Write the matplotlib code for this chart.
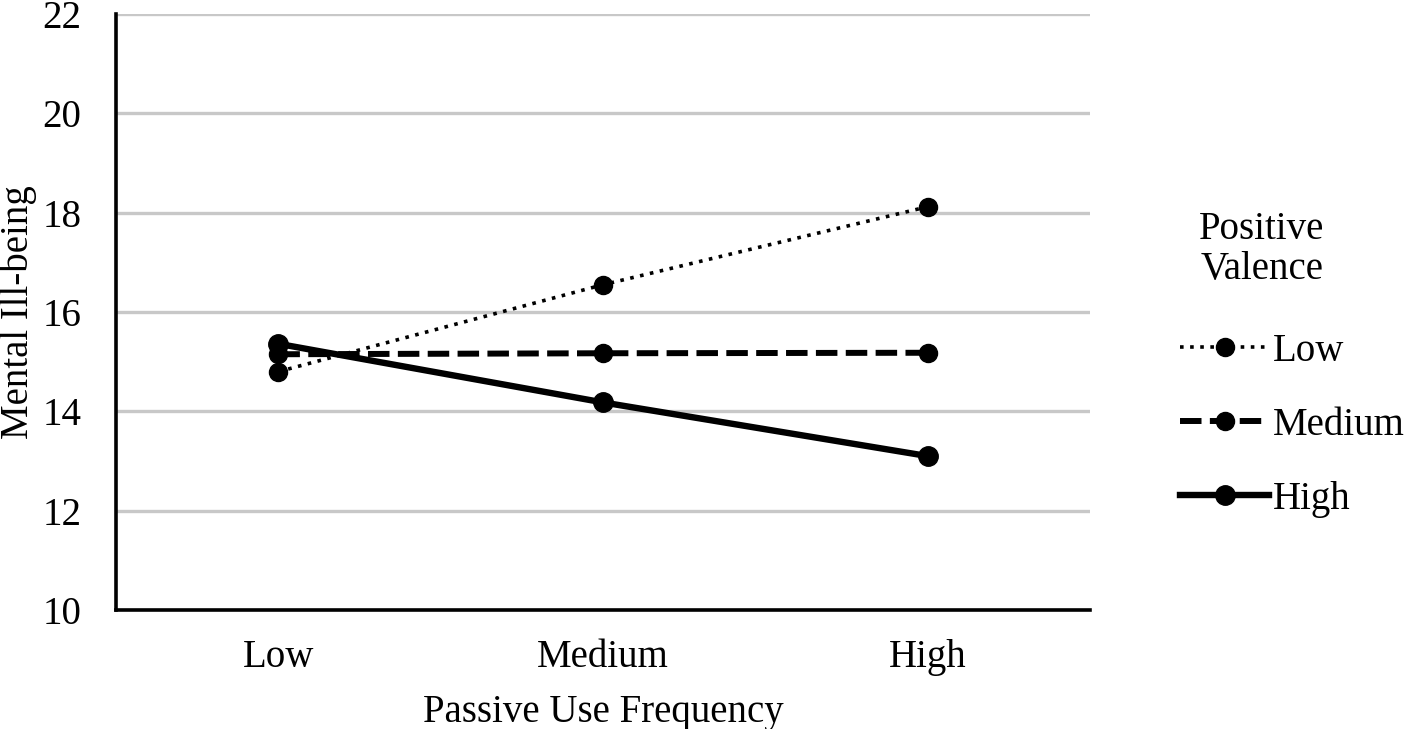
import matplotlib.pyplot as plt

# passive use frequency categories
categories = ["Low", "Medium", "High"]
# mental ill-being by positive valence level
low_valence = [14.8, 16.55, 18.12]
medium_valence = [15.15, 15.17, 15.18]
high_valence = [15.36, 14.18, 13.1]
yticks = [10, 12, 14, 16, 18, 20, 22]

plt.rcParams['font.family'] = ['Liberation Serif', 'DejaVu Serif']

fig = plt.figure(figsize=(14.08, 7.29), dpi=100)
ax = fig.add_axes([0.0824, 0.163, 0.692, 0.818])

x = range(len(categories))
ax.plot(x, low_valence, linestyle=(0, (1.0, 1.8)), linewidth=2.6, color="black",
        marker="o", markersize=13, label="Low", zorder=3)
ax.plot(x, medium_valence, linestyle=(0, (3.6, 1.4)), linewidth=4.3, color="black",
        marker="o", markersize=13, label="Medium", zorder=3)
ax.plot(x, high_valence, linestyle="-", linewidth=4.6, color="black",
        marker="o", markersize=14, label="High", zorder=3)

ax.set_xlim(-0.5, 2.5)
ax.set_ylim(10, 22)
ax.set_yticks(yticks)
ax.set_xticks(list(x))
ax.set_xticklabels(categories)
ax.yaxis.grid(True, color="#c8c8c8", linewidth=2.4)
ax.set_axisbelow(True)
for side in ["top", "right"]:
    ax.spines[side].set_visible(False)
ax.spines["left"].set_linewidth(2.6)
ax.spines["bottom"].set_linewidth(2.6)
ax.tick_params(length=0, labelsize=28)
ax.tick_params(axis="x", pad=21)
ax.tick_params(axis="y", pad=25)

ax.set_xlabel("Passive Use Frequency", fontsize=28, va="center")
ax.set_ylabel("Mental Ill-being", fontsize=28, va="center")
ax.xaxis.set_label_coords(0.5, -0.171)
ax.yaxis.set_label_coords(-0.1, 0.5)

# legend entries, title drawn separately so it sits centred like the original
leg = ax.legend(loc="center left", bbox_to_anchor=(1.056, 0.31),
                frameon=False, fontsize=28, handlelength=2.3,
                labelspacing=0.95, handletextpad=0.1)
fig.text(0.8963, 0.658, "Positive\nValence", fontsize=28, ha="center", va="center",
         multialignment="center", linespacing=1.1)

fig.savefig("out.png", dpi=100)
